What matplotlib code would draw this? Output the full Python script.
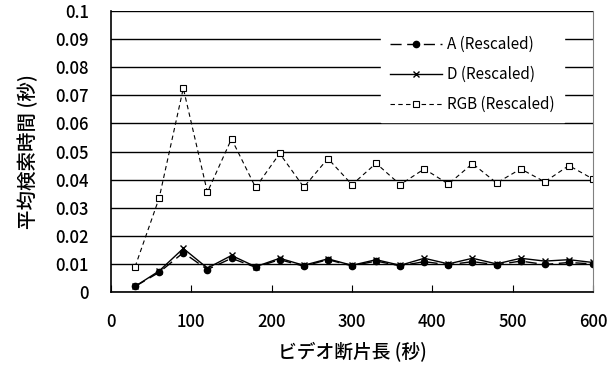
import matplotlib
matplotlib.use('Agg')
import matplotlib.pyplot as plt

plt.rcParams['font.family'] = ['Noto Sans CJK JP', 'DejaVu Sans']

# 動画断片長 (秒)
seg_len = [30, 60, 90, 120, 150, 180, 210, 240, 270, 300,
           330, 360, 390, 420, 450, 480, 510, 540, 570, 600]
a_vals = [0.002, 0.007, 0.014, 0.008, 0.012, 0.0088, 0.0115, 0.0092, 0.0115, 0.0093,
          0.011, 0.0093, 0.0108, 0.0097, 0.0108, 0.0097, 0.011, 0.0098, 0.0105, 0.010]
d_vals = [0.002, 0.0075, 0.0155, 0.0085, 0.013, 0.009, 0.012, 0.0095, 0.0118, 0.0095,
          0.0115, 0.0095, 0.012, 0.010, 0.012, 0.010, 0.012, 0.011, 0.0115, 0.0105]
rgb_vals = [0.009, 0.0335, 0.0725, 0.0355, 0.0545, 0.0372, 0.0493, 0.0373, 0.0475, 0.0382,
            0.0458, 0.0382, 0.0438, 0.0384, 0.0457, 0.0388, 0.0438, 0.0392, 0.0450, 0.0402]

fig = plt.figure(figsize=(6.1, 3.65), dpi=100)
ax = fig.add_axes([111 / 610, 1 - 292 / 365, (593 - 111) / 610, (292 - 11) / 365])

ax.plot(seg_len, a_vals, color='black', lw=1, ls=(0, (8, 4)), marker='o', ms=4.5,
        label='A (Rescaled)')
ax.plot(seg_len, d_vals, color='black', lw=1, ls='-', marker='x', ms=5, mew=1,
        label='D (Rescaled)')
ax.plot(seg_len, rgb_vals, color='black', lw=0.8, ls=(0, (4, 3)), marker='s', ms=4.5,
        mfc='white', mew=0.8, label='RGB (Rescaled)')

ax.set_xlim(0, 600)
ax.set_ylim(0, 0.1)
ax.set_xticks(range(0, 601, 100))
ax.set_yticks([i / 100 for i in range(11)])
ax.set_yticklabels(['0', '0.01', '0.02', '0.03', '0.04', '0.05', '0.06', '0.07',
                    '0.08', '0.09', '0.1'])
ax.yaxis.grid(True, color='black', lw=1)
ax.set_axisbelow(True)
ax.tick_params(axis='x', direction='in', length=5, pad=15, labelsize=12)
ax.tick_params(axis='y', length=0, pad=16, labelsize=12)
for lab in ax.get_xticklabels() + ax.get_yticklabels():
    lab.set_fontweight('medium')
ax.spines['top'].set_visible(False)
ax.spines['right'].set_color('gray')
for s in ['left', 'bottom']:
    ax.spines[s].set_color('black')
    ax.spines[s].set_linewidth(1.2)

ax.set_xlabel('ビデオ断片長 (秒)', fontsize=13.5, labelpad=8, fontweight='medium')
ax.set_ylabel('平均検索時間 (秒)', fontsize=14, labelpad=12, fontweight='medium')

leg = ax.legend(loc='upper right', bbox_to_anchor=(0.955, 0.97), frameon=True,
                fontsize=11, handlelength=3.4, labelspacing=0.85,
                borderpad=0.6, handletextpad=0.3)
leg.get_frame().set_edgecolor('white')
leg.get_frame().set_facecolor('white')
leg.get_frame().set_alpha(1)
leg.get_frame().set_boxstyle('square', pad=0)

fig.savefig('out.png', dpi=100)
